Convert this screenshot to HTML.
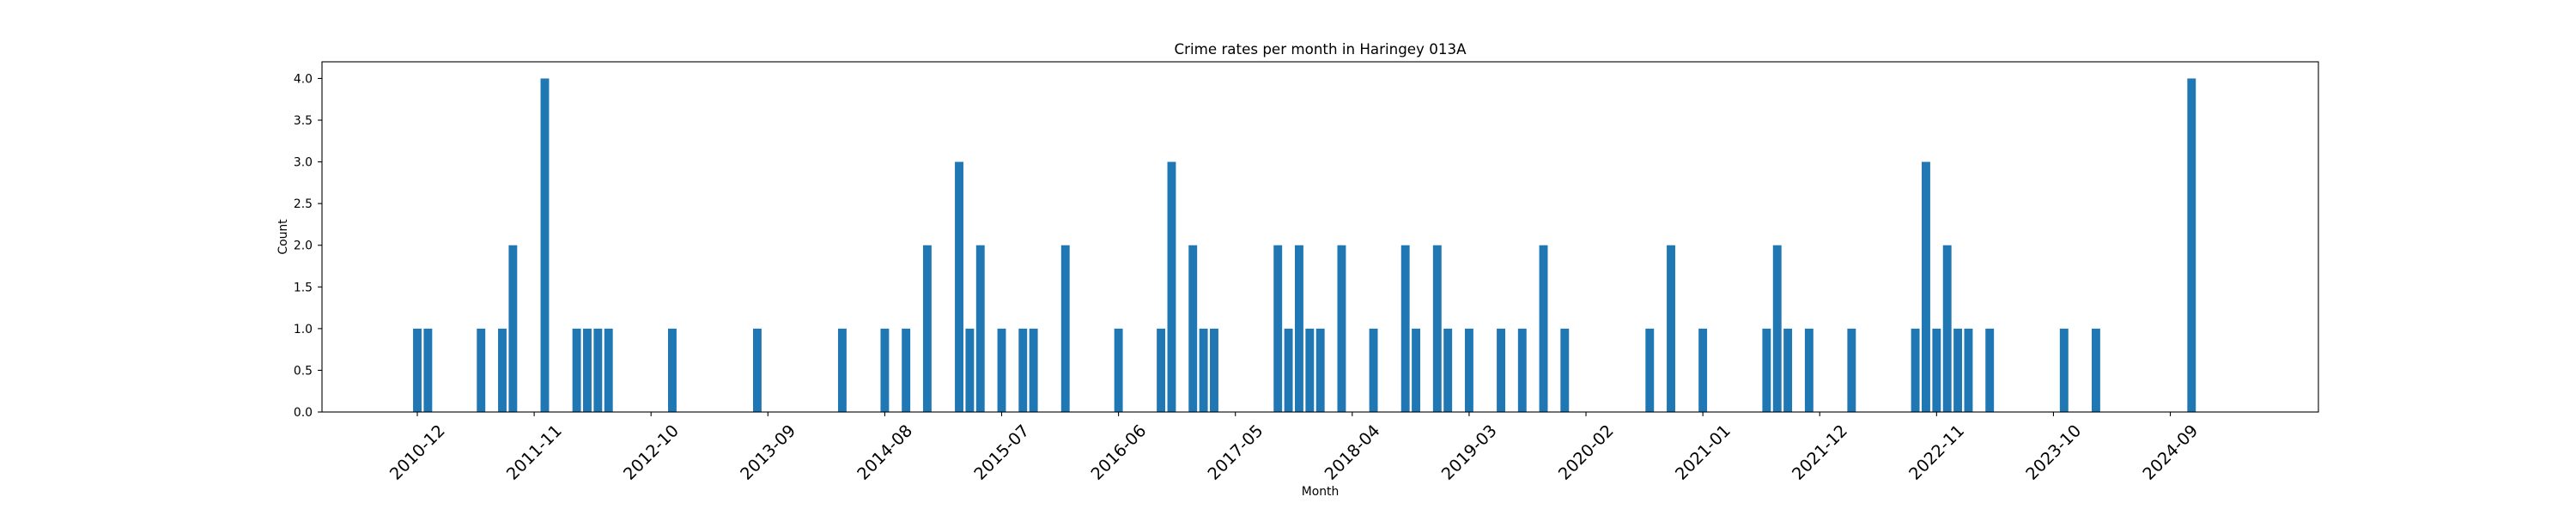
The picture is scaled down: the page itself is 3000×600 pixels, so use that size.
<!DOCTYPE html>
<html>
<head>
<meta charset="utf-8">
<style>
html,body{margin:0;padding:0;background:#fff;}
svg{display:block;font-family:"DejaVu Sans","Liberation Sans",sans-serif;}
</style>
</head>
<body>
<svg id="chart" width="3000" height="600" viewBox="0 0 3000 600" xmlns="http://www.w3.org/2000/svg">
<rect x="0" y="0" width="3000" height="600" fill="#fff"/>
<text x="1537.5" y="63" font-size="16.7" text-anchor="middle" fill="#000">Crime rates per month in Haringey 013A</text>
<text x="1537.5" y="577" font-size="13.9" text-anchor="middle" fill="#000">Month</text>
<text x="0" y="0" font-size="13.9" text-anchor="middle" fill="#000" transform="translate(334,276) rotate(-90)">Count</text>
<g id="bars"></g>
<g id="xticks"></g>
<g id="yticks"></g>
<rect x="375" y="72" width="2325" height="408" fill="none" stroke="#000" stroke-width="1.1"/>
</svg>
<script>
const months = ["2010-12","2011-01","2011-06","2011-08","2011-09","2011-12","2012-03","2012-04","2012-05","2012-06","2012-12",
"2013-08","2014-04","2014-08","2014-10","2014-12","2015-03","2015-04","2015-05","2015-07","2015-09","2015-10",
"2016-01","2016-06","2016-10","2016-11","2017-01","2017-02","2017-03","2017-09","2017-10","2017-11","2017-12","2018-01","2018-03",
"2018-06","2018-09","2018-10","2018-12","2019-01","2019-03","2019-06","2019-08","2019-10","2019-12","2020-08",
"2020-10","2021-01","2021-07","2021-08","2021-09","2021-11","2022-03","2022-09","2022-10","2022-11","2022-12","2023-01","2023-02",
"2023-04","2023-11","2024-02","2024-11"];
const counts = [1,1,1,1,2,4,1,1,1,1,1,
1,1,1,1,2,3,1,2,1,1,1,
2,1,1,3,2,1,1,2,1,2,1,1,2,
1,2,1,2,1,1,1,1,2,1,1,
2,1,1,2,1,1,1,1,3,1,2,1,1,
1,1,1,4];
const xTickLabels = ["2010-12","2011-11","2012-10","2013-09","2014-08","2015-07","2016-06","2017-05","2018-04","2019-03","2020-02","2021-01","2021-12","2022-11","2023-10","2024-09"];
const yTickValues = [0,0.5,1,1.5,2,2.5,3,3.5,4];

const NS="http://www.w3.org/2000/svg";
const X0=486, PXM=12.373, BASE=480, PXU=97.14;
function monthIndex(s){const [y,m]=s.split("-").map(Number);return (y-2010)*12+(m-12);}
function xScale(s){return X0+monthIndex(s)*PXM;}
function yScale(v){return BASE-v*PXU;}
function mk(tag,attrs,parent){const e=document.createElementNS(NS,tag);for(const k in attrs)e.setAttribute(k,attrs[k]);parent.appendChild(e);return e;}

const bars=document.getElementById("bars");
const bw=0.8*PXM;
months.forEach((m,i)=>{
  const r=mk("rect",{x:xScale(m)-bw/2,y:yScale(counts[i]),width:bw,height:counts[i]*PXU,fill:"#1f77b4"},bars);
  
  
});

const xt=document.getElementById("xticks");
xTickLabels.forEach(l=>{
  const x=xScale(l);
  const t=mk("line",{x1:x,y1:BASE,x2:x,y2:BASE+4.9,stroke:"#000","stroke-width":1.1},xt);
  
  
  const tx=mk("text",{x:0,y:0,"font-size":19.4,"text-anchor":"middle","dominant-baseline":"central",fill:"#000",transform:`translate(${x},527) rotate(-45)`},xt);
  tx.textContent=l;
  
  
});

const yt=document.getElementById("yticks");
yTickValues.forEach(v=>{
  const y=yScale(v);
  const t=mk("line",{x1:375-4.9,y1:y,x2:375,y2:y,stroke:"#000","stroke-width":1.1},yt);
  
  
  const tx=mk("text",{x:364,y:y+5,"font-size":13.9,"text-anchor":"end",fill:"#000"},yt);
  tx.textContent=v.toFixed(1);
  
  
});
</script>
</body>
</html>
